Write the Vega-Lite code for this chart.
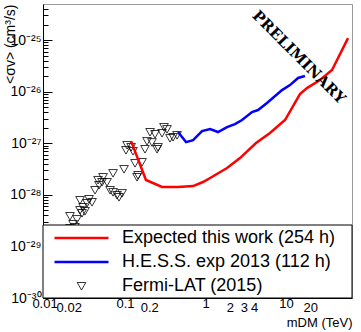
{
  "$schema": "https://vega.github.io/schema/vega-lite/v6.json",
  "width": 309,
  "height": 294,
  "autosize": {"type": "none"},
  "padding": {"left": 43, "top": 4, "right": 9, "bottom": 34},
  "config": {
    "view": {"stroke": "#999999", "strokeWidth": 1},
    "font": "Liberation Sans",
    "axis": {"grid": false, "labelFlush": false, "domainColor": "#000000", "tickColor": "#000000", "labelColor": "#000000", "titleColor": "#000000", "labelFont": "Liberation Sans", "titleFont": "Liberation Sans", "titleFontWeight": "normal", "zindex": 1},
    "legend": {"title": null, "orient": "none", "legendX": 10, "legendY": 225, "padding": 0, "symbolSize": 2916, "clipHeight": 18, "labelFontSize": 18, "labelFont": "Liberation Sans", "labelColor": "#000000", "labelOffset": 12, "rowPadding": 6, "labelLimit": 400}
  },
  "datasets": {
    "curves": [
      {"series": "Expected this work (254 h)", "m": 0.119, "sv": 1.10e-27},
      {"series": "Expected this work (254 h)", "m": 0.182, "sv": 1.94e-28},
      {"series": "Expected this work (254 h)", "m": 0.288, "sv": 1.42e-28},
      {"series": "Expected this work (254 h)", "m": 0.455, "sv": 1.42e-28},
      {"series": "Expected this work (254 h)", "m": 0.70, "sv": 1.48e-28},
      {"series": "Expected this work (254 h)", "m": 0.93, "sv": 1.77e-28},
      {"series": "Expected this work (254 h)", "m": 1.14, "sv": 2.12e-28},
      {"series": "Expected this work (254 h)", "m": 1.85, "sv": 3.31e-28},
      {"series": "Expected this work (254 h)", "m": 2.68, "sv": 5.16e-28},
      {"series": "Expected this work (254 h)", "m": 4.24, "sv": 1.01e-27},
      {"series": "Expected this work (254 h)", "m": 6.32, "sv": 1.58e-27},
      {"series": "Expected this work (254 h)", "m": 9.72, "sv": 2.82e-27},
      {"series": "Expected this work (254 h)", "m": 14.9, "sv": 8.97e-27},
      {"series": "Expected this work (254 h)", "m": 18.2, "sv": 1.17e-26},
      {"series": "Expected this work (254 h)", "m": 26.4, "sv": 1.68e-26},
      {"series": "Expected this work (254 h)", "m": 37.3, "sv": 2.62e-26},
      {"series": "Expected this work (254 h)", "m": 58.9, "sv": 1.09e-25},
      {"series": "H.E.S.S. exp 2013 (112 h)", "m": 0.455, "sv": 1.65e-27},
      {"series": "H.E.S.S. exp 2013 (112 h)", "m": 0.573, "sv": 1.05e-27},
      {"series": "H.E.S.S. exp 2013 (112 h)", "m": 0.70, "sv": 1.15e-27},
      {"series": "H.E.S.S. exp 2013 (112 h)", "m": 0.905, "sv": 1.72e-27},
      {"series": "H.E.S.S. exp 2013 (112 h)", "m": 1.14, "sv": 1.88e-27},
      {"series": "H.E.S.S. exp 2013 (112 h)", "m": 1.43, "sv": 1.65e-27},
      {"series": "H.E.S.S. exp 2013 (112 h)", "m": 1.85, "sv": 2.06e-27},
      {"series": "H.E.S.S. exp 2013 (112 h)", "m": 2.32, "sv": 2.35e-27},
      {"series": "H.E.S.S. exp 2013 (112 h)", "m": 2.84, "sv": 2.82e-27},
      {"series": "H.E.S.S. exp 2013 (112 h)", "m": 3.78, "sv": 4.03e-27},
      {"series": "H.E.S.S. exp 2013 (112 h)", "m": 4.49, "sv": 4.40e-27},
      {"series": "H.E.S.S. exp 2013 (112 h)", "m": 5.80, "sv": 6.01e-27},
      {"series": "H.E.S.S. exp 2013 (112 h)", "m": 8.92, "sv": 1.07e-26},
      {"series": "H.E.S.S. exp 2013 (112 h)", "m": 11.2, "sv": 1.34e-26},
      {"series": "H.E.S.S. exp 2013 (112 h)", "m": 14.1, "sv": 1.84e-26},
      {"series": "H.E.S.S. exp 2013 (112 h)", "m": 17.2, "sv": 2.01e-26}
    ],
    "fermi": [
      {"series": "Fermi-LAT (2015)", "m": 0.2046, "sv": 1.65e-27},
      {"series": "Fermi-LAT (2015)", "m": 0.236, "sv": 1.51e-27},
      {"series": "Fermi-LAT (2015)", "m": 0.288, "sv": 1.58e-27},
      {"series": "Fermi-LAT (2015)", "m": 0.305, "sv": 2.06e-27},
      {"series": "Fermi-LAT (2015)", "m": 0.332, "sv": 1.88e-27},
      {"series": "Fermi-LAT (2015)", "m": 0.1876, "sv": 1.10e-27},
      {"series": "Fermi-LAT (2015)", "m": 0.216, "sv": 1.05e-27},
      {"series": "Fermi-LAT (2015)", "m": 0.257, "sv": 8.43e-28},
      {"series": "Fermi-LAT (2015)", "m": 0.250, "sv": 7.72e-28},
      {"series": "Fermi-LAT (2015)", "m": 0.177, "sv": 7.72e-28},
      {"series": "Fermi-LAT (2015)", "m": 0.362, "sv": 1.26e-27},
      {"series": "Fermi-LAT (2015)", "m": 0.395, "sv": 1.32e-27},
      {"series": "Fermi-LAT (2015)", "m": 0.443, "sv": 1.44e-27},
      {"series": "Fermi-LAT (2015)", "m": 0.106, "sv": 9.22e-28},
      {"series": "Fermi-LAT (2015)", "m": 0.119, "sv": 8.43e-28},
      {"series": "Fermi-LAT (2015)", "m": 0.1028, "sv": 7.38e-28},
      {"series": "Fermi-LAT (2015)", "m": 0.1257, "sv": 7.06e-28},
      {"series": "Fermi-LAT (2015)", "m": 0.133, "sv": 4.13e-28},
      {"series": "Fermi-LAT (2015)", "m": 0.1626, "sv": 4.32e-28},
      {"series": "Fermi-LAT (2015)", "m": 0.0972, "sv": 3.16e-28},
      {"series": "Fermi-LAT (2015)", "m": 0.0710, "sv": 2.64e-28},
      {"series": "Fermi-LAT (2015)", "m": 0.145, "sv": 2.42e-28},
      {"series": "Fermi-LAT (2015)", "m": 0.141, "sv": 2.21e-28},
      {"series": "Fermi-LAT (2015)", "m": 0.0533, "sv": 2.21e-28},
      {"series": "Fermi-LAT (2015)", "m": 0.0462, "sv": 1.94e-28},
      {"series": "Fermi-LAT (2015)", "m": 0.0518, "sv": 1.77e-28},
      {"series": "Fermi-LAT (2015)", "m": 0.0598, "sv": 1.77e-28},
      {"series": "Fermi-LAT (2015)", "m": 0.0475, "sv": 1.55e-28},
      {"series": "Fermi-LAT (2015)", "m": 0.0424, "sv": 1.24e-28},
      {"series": "Fermi-LAT (2015)", "m": 0.0652, "sv": 1.24e-28},
      {"series": "Fermi-LAT (2015)", "m": 0.0710, "sv": 1.13e-28},
      {"series": "Fermi-LAT (2015)", "m": 0.0918, "sv": 1.08e-28},
      {"series": "Fermi-LAT (2015)", "m": 0.0796, "sv": 9.91e-29},
      {"series": "Fermi-LAT (2015)", "m": 0.0842, "sv": 9.06e-29},
      {"series": "Fermi-LAT (2015)", "m": 0.0276, "sv": 7.92e-29},
      {"series": "Fermi-LAT (2015)", "m": 0.0357, "sv": 8.29e-29},
      {"series": "Fermi-LAT (2015)", "m": 0.0389, "sv": 7.25e-29},
      {"series": "Fermi-LAT (2015)", "m": 0.0337, "sv": 6.93e-29},
      {"series": "Fermi-LAT (2015)", "m": 0.0301, "sv": 5.80e-29},
      {"series": "Fermi-LAT (2015)", "m": 0.0276, "sv": 5.07e-29},
      {"series": "Fermi-LAT (2015)", "m": 0.0318, "sv": 4.85e-29},
      {"series": "Fermi-LAT (2015)", "m": 0.0292, "sv": 4.44e-29},
      {"series": "Fermi-LAT (2015)", "m": 0.0207, "sv": 3.88e-29},
      {"series": "Fermi-LAT (2015)", "m": 0.0253, "sv": 3.39e-29},
      {"series": "Fermi-LAT (2015)", "m": 0.0226, "sv": 2.72e-29},
      {"series": "Fermi-LAT (2015)", "m": 0.0239, "sv": 2.38e-29},
      {"series": "Fermi-LAT (2015)", "m": 0.0207, "sv": 2.27e-29},
      {"series": "Fermi-LAT (2015)", "m": 0.0196, "sv": 1.90e-29}
    ]
  },
  "layer": [
    {
      "data": {"name": "fermi"},
      "mark": {"type": "point", "filled": false, "size": 2916, "opacity": 1},
      "encoding": {
        "x": {
          "field": "m", "type": "quantitative",
          "scale": {"type": "log", "domain": [0.00957, 66], "nice": false},
          "axis": {
            "title": "mDM (TeV)",
            "values": [0.01,0.02,0.03,0.04,0.05,0.06,0.07,0.08,0.09,0.1,0.2,0.3,0.4,0.5,0.6,0.7,0.8,0.9,1,2,3,4,5,6,7,8,9,10,20,30,40,50,60],
            "labelExpr": "abs(datum.value/0.01-1)<0.01 ? '0.01' : abs(datum.value/0.02-1)<0.01 ? '0.02' : abs(datum.value/0.1-1)<0.01 ? '0.1' : abs(datum.value/0.2-1)<0.01 ? '0.2' : abs(datum.value-1)<0.01 ? '1' : abs(datum.value-2)<0.01 ? '2' : abs(datum.value-3)<0.01 ? '3' : abs(datum.value-4)<0.01 ? '4' : abs(datum.value-10)<0.01 ? '10' : abs(datum.value-20)<0.01 ? '20' : ''",
            "labelOverlap": false,
            "labelFlush": false,
            "labelBound": false,
            "labelFontSize": 13,
            "labelPadding": 8,
            "tickSize": {"condition": {"test": "abs(log(datum.value)/LN10 - round(log(datum.value)/LN10)) < 0.001", "value": -9}, "value": -5},
            "titleFontSize": 13,
            "titleAnchor": "end",
            "titleAlign": "right",
            "titleBaseline": "middle",
            "titleX": 309,
            "titleY": 24
          }
        },
        "y": {
          "field": "sv", "type": "quantitative",
          "scale": {"type": "log", "domain": [1e-30, 5e-25], "nice": false},
          "axis": {
            "title": "<σv> (cm³/s)",
            "values": [1e-30,2e-30,3e-30,4e-30,5e-30,6e-30,7e-30,8e-30,9e-30,1e-29,2e-29,3e-29,4e-29,5e-29,6e-29,7e-29,8e-29,9e-29,1e-28,2e-28,3e-28,4e-28,5e-28,6e-28,7e-28,8e-28,9e-28,1e-27,2e-27,3e-27,4e-27,5e-27,6e-27,7e-27,8e-27,9e-27,1e-26,2e-26,3e-26,4e-26,5e-26,6e-26,7e-26,8e-26,9e-26,1e-25,2e-25,3e-25,4e-25],
            "labelExpr": "datum.value==1e-25?'10⁻²⁵':datum.value==1e-26?'10⁻²⁶':datum.value==1e-27?'10⁻²⁷':datum.value==1e-28?'10⁻²⁸':datum.value==1e-29?'10⁻²⁹':datum.value==1e-30?'10⁻³⁰':''",
            "labelOverlap": false,
            "labelFlush": false,
            "labelFontSize": 14,
            "labelPadding": 11,
            "tickSize": {"condition": {"test": "abs(log(datum.value)/LN10 - round(log(datum.value)/LN10)) < 0.001", "value": -9}, "value": -5},
            "titleFontSize": 14,
            "titleAngle": -90,
            "titleAlign": "right",
            "titleBaseline": "middle",
            "titleX": -33,
            "titleY": 0
          }
        },
        "color": {
          "field": "series", "type": "nominal",
          "scale": {"domain": ["Expected this work (254 h)", "H.E.S.S. exp 2013 (112 h)", "Fermi-LAT (2015)"], "range": ["#ff0000", "#0000ff", "#000000"]}
        },
        "shape": {
          "field": "series", "type": "nominal",
          "scale": {"domain": ["Expected this work (254 h)", "H.E.S.S. exp 2013 (112 h)", "Fermi-LAT (2015)"], "range": ["M-1,0H1", "M-1,0H1", "M-0.16,-0.13L0.16,-0.13L0,0.15Z"]}
        },
        "strokeWidth": {
          "field": "series", "type": "nominal",
          "scale": {"type": "ordinal", "domain": ["Expected this work (254 h)", "H.E.S.S. exp 2013 (112 h)", "Fermi-LAT (2015)"], "range": [2.5, 2.5, 0.8]}
        }
      }
    },
    {
      "data": {"name": "curves"},
      "mark": {"type": "line", "strokeWidth": 2.5},
      "encoding": {
        "x": {"field": "m", "type": "quantitative", "scale": {"type": "log", "domain": [0.00957, 66], "nice": false}},
        "y": {"field": "sv", "type": "quantitative", "scale": {"type": "log", "domain": [1e-30, 5e-25], "nice": false}},
        "color": {
          "field": "series", "type": "nominal",
          "scale": {"domain": ["Expected this work (254 h)", "H.E.S.S. exp 2013 (112 h)", "Fermi-LAT (2015)"], "range": ["#ff0000", "#0000ff", "#000000"]}
        }
      }
    },
    {
      "data": {"values": [{}]},
      "mark": {"type": "rect", "fill": "#ffffff", "stroke": "#000000", "strokeWidth": 1},
      "encoding": {
        "x": {"datum": 0.00957, "type": "quantitative"},
        "x2": {"datum": 66},
        "y": {"datum": 1e-30, "type": "quantitative"},
        "y2": {"datum": 2.6e-29}
      }
    },
    {
      "data": {"values": [{}]},
      "mark": {"type": "text", "angle": 45, "align": "center", "baseline": "middle", "font": "DejaVu Serif", "fontWeight": "bold", "fontSize": 15, "color": "#000000"},
      "encoding": {
        "x": {"datum": 14.5, "type": "quantitative"},
        "y": {"datum": 4.7e-26, "type": "quantitative"},
        "text": {"value": "PRELIMINARY"}
      }
    }
  ]
}
